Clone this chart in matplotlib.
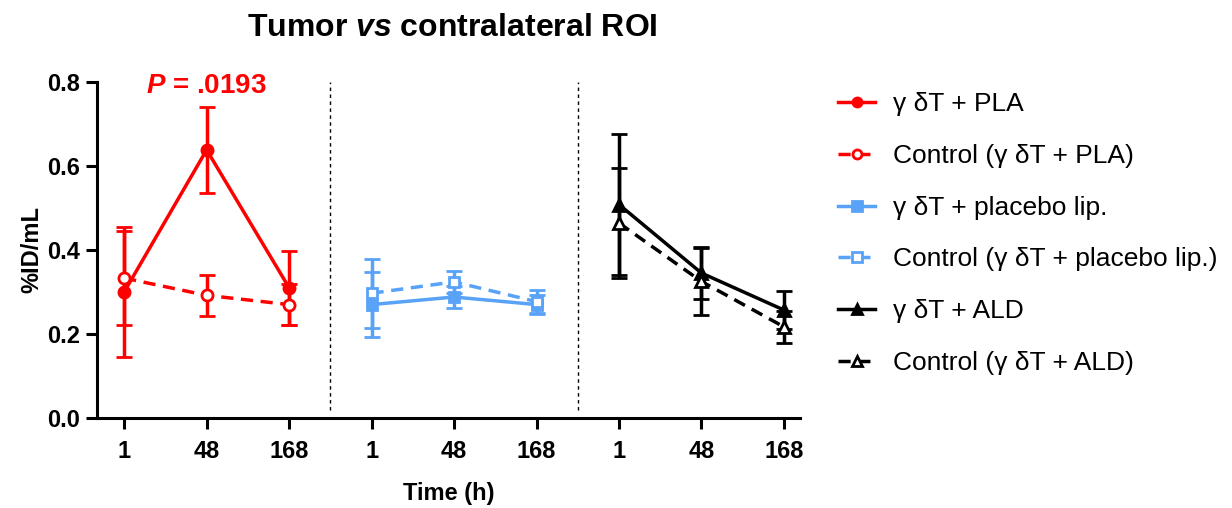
import matplotlib
matplotlib.use('Agg')
import matplotlib.pyplot as plt
from matplotlib.lines import Line2D
import numpy as np

plt.rcParams['font.family'] = ['Liberation Sans', 'DejaVu Sans']
plt.rcParams['mathtext.fontset'] = 'custom'
plt.rcParams['mathtext.it'] = 'Liberation Sans:italic:bold'
plt.rcParams['mathtext.rm'] = 'Liberation Sans:bold'

RED = '#FF0000'
BLUE = '#58A2F8'
BLACK = '#000000'

time_labels = ['1', '48', '168']

# mean and SD per group (1, 48, 168 h)
pla_mean = [0.300, 0.638, 0.310]
pla_sd = [0.155, 0.103, 0.088]
pla_ctrl_mean = [0.333, 0.292, 0.270]
pla_ctrl_sd = [0.112, 0.048, 0.048]

plib_mean = [0.270, 0.288, 0.270]
plib_sd = [0.078, 0.026, 0.022]
plib_ctrl_mean = [0.297, 0.324, 0.277]
plib_ctrl_sd = [0.082, 0.027, 0.028]

ald_mean = [0.508, 0.345, 0.257]
ald_sd = [0.168, 0.062, 0.045]
ald_ctrl_mean = [0.464, 0.325, 0.217]
ald_ctrl_sd = [0.130, 0.080, 0.038]

series = [
    (0, pla_mean, pla_sd, RED, 'o', True, 'γ δT + PLA'),
    (0, pla_ctrl_mean, pla_ctrl_sd, RED, 'o', False, 'Control (γ δT + PLA)'),
    (3, plib_mean, plib_sd, BLUE, 's', True, 'γ δT + placebo lip.'),
    (3, plib_ctrl_mean, plib_ctrl_sd, BLUE, 's', False, 'Control (γ δT + placebo lip.)'),
    (6, ald_mean, ald_sd, BLACK, '^', True, 'γ δT + ALD'),
    (6, ald_ctrl_mean, ald_ctrl_sd, BLACK, '^', False, 'Control (γ δT + ALD)'),
]

fig = plt.figure(figsize=(12.32, 5.08), dpi=100)
ax = fig.add_axes([0.0787, 0.177, 0.571, 0.662])

handles = []
for start, mean, sd, color, marker, solid, label in series:
    x = np.arange(3) + start
    ls = '-' if solid else (0, (3.5, 2.2))
    mfc = color if solid else 'white'
    ms = 8 if marker != 's' else 7.5
    ax.errorbar(x, mean, yerr=sd, color=color, linestyle=ls, linewidth=2.5,
                marker=marker, markersize=ms,
                markerfacecolor=mfc, markeredgecolor=color, markeredgewidth=2,
                elinewidth=2.5, capsize=5.5, capthick=2.5)
    handles.append(Line2D([], [], color=color, linestyle=ls, linewidth=2.5,
                          marker=marker, markersize=6.5, markerfacecolor=mfc,
                          markeredgecolor=color, markeredgewidth=2, label=label))

for xv in [2.5, 5.5]:
    ax.plot([xv, xv], [0.02, 0.8], color='black', linestyle=(0, (2.5, 2.5)),
            linewidth=1)

ax.set_xlim(-0.33, 8.2)
ax.set_ylim(0, 0.8)
ax.set_yticks([0.0, 0.2, 0.4, 0.6, 0.8])
ax.set_yticklabels(['0.0', '0.2', '0.4', '0.6', '0.8'])
ax.set_xticks(np.arange(9))
ax.set_xticklabels(time_labels * 3)
for sp in ['top', 'right']:
    ax.spines[sp].set_visible(False)
for sp in ['left', 'bottom']:
    ax.spines[sp].set_linewidth(2.2)
ax.tick_params(width=2.2, length=8, labelsize=17)
ax.tick_params(axis='x', pad=8)
ax.tick_params(axis='y', pad=4)
for t in ax.get_xticklabels() + ax.get_yticklabels():
    t.set_fontweight('bold')

ax.set_xlabel('Time (h)', fontsize=17, fontweight='bold', va='center')
ax.xaxis.set_label_coords(0.5, -0.223)
ax.set_ylabel('%ID/mL', fontsize=17, fontweight='bold')
ax.yaxis.set_label_coords(-0.076, 0.5)

ax.text(1, 0.79, r'$\mathit{P}$ = .0193', color=RED, fontsize=20,
        fontweight='bold', ha='center', va='center')

fig.text(0.367, 0.945, r'Tumor $\mathit{vs}$ contralateral ROI', fontsize=23,
         fontweight='bold', ha='center', va='center')

fig.legend(handles=handles, loc='upper left', bbox_to_anchor=(0.672, 0.839),
           frameon=False, fontsize=19, handlelength=1.4, handletextpad=0.68,
           labelspacing=1.05, borderaxespad=0)

plt.savefig('out.png', dpi=100)
plt.close()
